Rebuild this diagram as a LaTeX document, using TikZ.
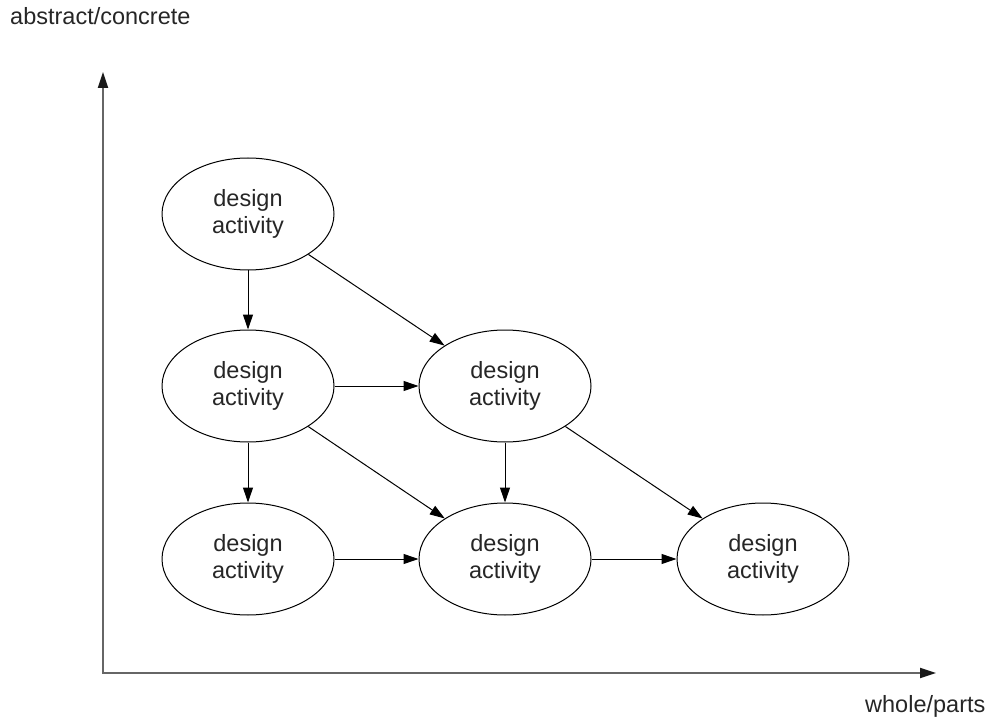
\documentclass[tikz,border=0pt]{standalone}
\usepackage{fontspec}
\setmainfont{Liberation Sans}
\usetikzlibrary{shapes.geometric,arrows.meta}
\begin{document}
\begin{tikzpicture}[x=1pt,y=-1pt,
  activity/.style={ellipse,draw=black,line width=1pt,minimum width=172pt,
    minimum height=112pt,inner sep=0pt,align=center,text=black!85,
    font=\fontsize{23.5}{27}\selectfont},
  flow/.style={draw=black,line width=1pt,-{Triangle[length=15pt,width=10pt]}},
  axis/.style={draw=black!60,line width=2pt,
    {Triangle[length=16pt,width=10pt,color=black!90]}-{Triangle[length=16pt,width=10pt,color=black!90]}},
  axislabel/.style={anchor=base west,inner sep=0pt,text=black!85,
    font=\fontsize{23.5}{27}\selectfont}]
\useasboundingbox (0,0) rectangle (991,722);

% axes
\coordinate (ytop) at (103,72);
\coordinate (origin) at (103,673);
\coordinate (xend) at (936,673);
\draw[axis] (ytop) -- (origin) -- (xend);
\node[axislabel] (ylab) at (10,25) {abstract/concrete};
\node[axislabel] (xlab) at (865,712) {whole/parts};

% activities
\node[activity] (a) at (248,214) {design\\activity};
\node[activity] (b) at (248,386) {design\\activity};
\node[activity] (c) at (505,386) {design\\activity};
\node[activity] (d) at (248,559) {design\\activity};
\node[activity] (e) at (505,559) {design\\activity};
\node[activity] (f) at (763,559) {design\\activity};

% flows
\draw[flow] (a) -- (b);
\draw[flow] (a) -- (c);
\draw[flow] (b) -- (c);
\draw[flow] (b) -- (d);
\draw[flow] (b) -- (e);
\draw[flow] (c) -- (e);
\draw[flow] (c) -- (f);
\draw[flow] (d) -- (e);
\draw[flow] (e) -- (f);
\end{tikzpicture}
\end{document}
